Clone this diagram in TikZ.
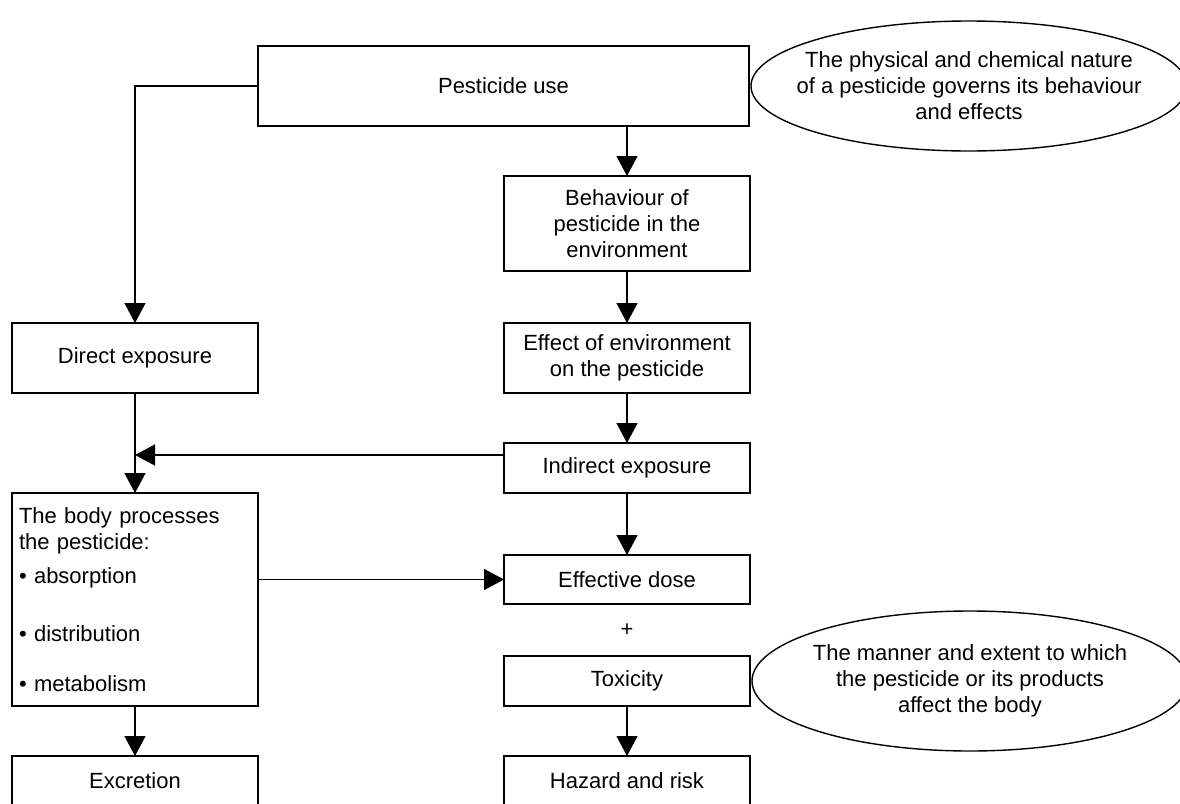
\documentclass[tikz,border=0pt]{standalone}
\usepackage{fontspec}
\setmainfont{Liberation Sans}
\usetikzlibrary{shapes.geometric, arrows.meta, positioning, calc}
\tikzstyle{process} = [rectangle, minimum width=123pt, text centered, align=center, draw=black, line width=1pt, inner sep=3.5pt, outer sep=0pt]
\tikzstyle{note} = [ellipse, minimum width=218pt, align=center, draw=black, line width=0.7pt, inner xsep=-20pt, inner ysep=0pt, outer sep=0pt]
\tikzstyle{arrow} = [line width=0.7pt, -{Triangle[length=10pt, width=10.5pt]}]

\begin{document}
\begin{tikzpicture}[x=0.5pt, y=-0.5pt, node distance=25pt, font=\fontsize{11}{13}\selectfont]
    \clip (0,0) rectangle (1180,804);

    % Nodes
    \node (use) [process, minimum width=245.5pt, minimum height=40pt] at (503.5,86) {Pesticide use};
    \node (nature) [note, minimum height=65pt, right=1pt of use] {The physical and chemical nature\\of a pesticide governs its behaviour\\and effects};
    \node (behav) [process, minimum height=47.5pt, below=25pt of use, xshift=61.75pt] {Behaviour of\\pesticide in the\\environment};
    \node (effect) [process, minimum height=35pt, below=26pt of behav] {Effect of environment\\on the pesticide};
    \node (indirect) [process, minimum height=25pt, below=of effect] {Indirect exposure};
    \node (dose) [process, minimum height=24.5pt, below=31pt of indirect] {Effective dose};
    \node (tox) [process, minimum height=25pt, below=26pt of dose] {Toxicity};
    \node (manner) [note, minimum height=70pt, right=1pt of tox] {The manner and extent to which\\the pesticide or its products\\affect the body};
    \node (hazard) [process, minimum height=25pt, below=of tox] {Hazard and risk};
    \node (plus) at ($(dose.south)!0.5!(tox.north)$) {+};

    \node (direct) [process, minimum height=35pt, left=123pt of effect] {Direct exposure};
    \node (body) [process, minimum height=106.5pt, text width=116pt, align=left, below=50pt of direct] {The body processes\\the pesticide:\\[4pt]\textbullet\ absorption\\[16pt]\textbullet\ distribution\\[12pt]\textbullet\ metabolism};
    \node (excr) [process, minimum height=25pt, below=of body] {Excretion};
    \coordinate (meet) at (135,455);

    % Arrows
    \draw [arrow] (use.west) -| (direct.north);
    \draw [arrow] (use.south -| behav.north) -- (behav.north);
    \draw [arrow] (behav) -- (effect);
    \draw [arrow] (effect) -- (indirect);
    \draw [arrow] (indirect) -- (dose);
    \draw [arrow] (tox) -- (hazard);
    \draw [arrow] (direct) -- (body);
    \draw [arrow] (indirect.west |- meet) -- (meet);
    \draw [arrow] (body.east |- dose.west) -- (dose.west);
    \draw [arrow] (body) -- (excr);

\end{tikzpicture}
\end{document}
